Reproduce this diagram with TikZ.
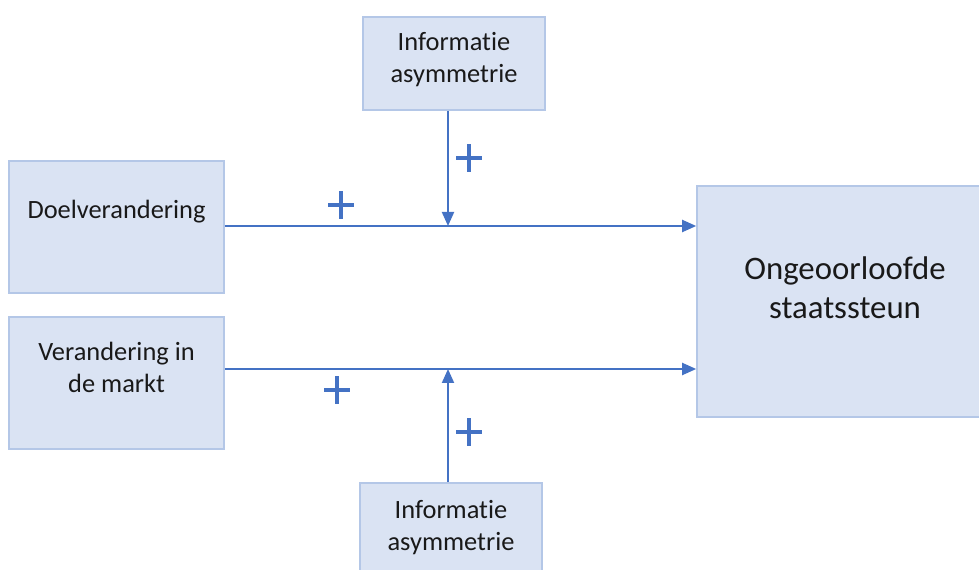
\documentclass[tikz,border=0pt]{standalone}
\usepackage{fontspec}
\setmainfont{Carlito}[RawFeature={-liga;-clig;-dlig}]
\usetikzlibrary{arrows.meta}
\definecolor{boxfill}{HTML}{DAE3F3}
\definecolor{boxline}{HTML}{B4C7E7}
\definecolor{flow}{HTML}{4472C4}
\tikzset{
  box/.style={draw=boxline, fill=boxfill, line width=1.2pt, inner sep=0pt},
  txt/.style={align=center, inner sep=0pt, text=black!90,
    font=\fontsize{19.8pt}{24pt}\selectfont},
  bigtxt/.style={align=center, inner sep=0pt, text=black!90,
    font=\fontsize{24.6pt}{29pt}\selectfont},
  flowline/.style={draw=flow, line width=1.5pt,
    -{Triangle[length=10.5pt, width=9pt]}},
  plusmark/.style={draw=flow, line width=3pt}
}
\begin{document}
\begin{tikzpicture}[x=0.75pt, y=-0.75pt]
  \useasboundingbox (0,0) rectangle (979,570);
  \clip (0,0) rectangle (979,570);

  % boxes
  \node[box, minimum width=161.25pt, minimum height=99pt] (doel) at (116.5,227) {};
  \node[box, minimum width=161.25pt, minimum height=99pt] (markt) at (116.5,383) {};
  \node[box, minimum width=136.5pt, minimum height=69.75pt] (infoT) at (454,63.5) {};
  \node[box, minimum width=136.5pt, minimum height=69.75pt] (infoB) at (451,529.5) {};
  \node[box, minimum width=222pt, minimum height=173.25pt] (ong) at (845,301.5) {};

  % box texts
  \node[txt] (tdoel) at (116.5,212) {Doelverandering};
  \node[txt] (tmarkt) at (116.5,367.5) {Verandering in\\de markt};
  \node[txt] (tinfoT) at (454,60) {Informatie\\asymmetrie};
  \node[txt] (tinfoB) at (451,528) {Informatie\\asymmetrie};
  \node[bigtxt] (tong) at (845,287.5) {Ongeoorloofde\\staatssteun};

  % junctions on the horizontal flows
  \coordinate (j1) at (448,226);
  \coordinate (j2) at (448,369);

  % connectors
  \draw[flowline] (doel.east |- j1) -- (ong.west |- j1);
  \draw[flowline] (markt.east |- j2) -- (ong.west |- j2);
  \draw[flowline] (infoT.south -| j1) -- (j1);
  \draw[flowline] (infoB.north -| j2) -- (j2);

  % plus signs
  \foreach \name/\px/\py in {p1/341/205, p2/469/158, p3/337/390, p4/469/432}{
    \coordinate (\name) at (\px,\py);
    \draw[plusmark] ([xshift=-9.75pt]\name) -- ([xshift=9.75pt]\name)
                    ([yshift=-10.5pt]\name) -- ([yshift=10.5pt]\name);
  }
\end{tikzpicture}
\end{document}
